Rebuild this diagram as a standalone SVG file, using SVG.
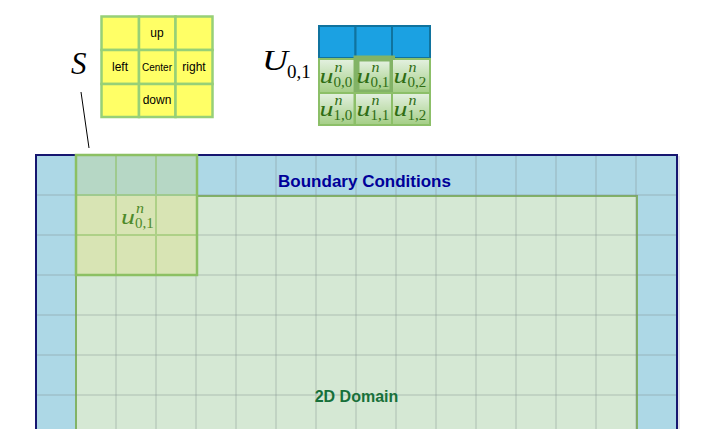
<svg xmlns="http://www.w3.org/2000/svg" width="707" height="429" viewBox="0 0 707 429">
<defs>
<style>
.sans{font-family:"Liberation Sans",Arial,sans-serif}
.math{font-family:"Liberation Serif","DejaVu Serif",serif;font-style:italic}
.mrm{font-family:"Liberation Serif","DejaVu Serif",serif}
.scell{fill:#ffff66;stroke:#97d077;stroke-width:2.5}
.bcell{fill:#1ba1e2;stroke:#10739e;stroke-width:2}
.gcell{fill:url(#gg)}
.grid{stroke:#7a8a8a;stroke-opacity:0.22;stroke-width:2}
.ulab{fill:#2f6d14}
</style>
<linearGradient id="gg" x1="0" y1="0" x2="0" y2="1">
<stop offset="0" stop-color="#e2f0de"/>
<stop offset="1" stop-color="#a6cf88"/>
</linearGradient>
</defs>

<g id="domain-outer">
<rect x="36" y="155" width="641" height="290" fill="#add8e6" stroke="#161670" stroke-width="2"/>
<line x1="679" y1="156" x2="679" y2="429" stroke="#c8c8d0" stroke-width="1"/>
</g>
<g id="domain-inner">
<rect x="76" y="196" width="561" height="260" fill="#d5e8d4" stroke="#82b366" stroke-width="2"/>
</g>

<g id="grid">
<path class="grid" d="M37 195H676M37 235H676M37 275H676M37 315H676M37 355H676M37 395H676"/>
<path class="grid" d="M116 156V429M156 156V429M196 156V429M236 156V429M276 156V429M316 156V429M356 156V429M396 156V429M436 156V429M476 156V429M516 156V429M556 156V429M596 156V429M636 156V429"/>
</g>

<g id="stencil-overlay">
<rect x="76" y="155" width="121" height="41" fill="#b6d7c5"/>
<rect x="76" y="196" width="121" height="79" fill="#d8e4b4"/>
<path d="M116 155V275M156 155V275M76 195H197M76 235H197" stroke="#8cc063" stroke-opacity="0.55" stroke-width="2" fill="none"/>
<rect x="76" y="155" width="121" height="120" fill="none" stroke="#8cc063" stroke-width="2.5"/>
<text x="121" y="224" class="math" font-size="21" fill="#4e8a2a" textLength="14" lengthAdjust="spacingAndGlyphs">u</text>
<text x="136" y="213" class="math" font-size="14" fill="#4e8a2a" textLength="8" lengthAdjust="spacingAndGlyphs">n</text>
<text x="135" y="228" class="mrm" font-size="15" fill="#4e8a2a">0,1</text>
</g>

<g id="labels">
<text x="364.5" y="187" class="sans" font-size="17" font-weight="bold" fill="#000099" text-anchor="middle">Boundary Conditions</text>
<text x="356.5" y="402" class="sans" font-size="16" font-weight="bold" fill="#17703a" text-anchor="middle">2D Domain</text>
</g>

<g id="connectors">
<line x1="81" y1="92" x2="89" y2="148" stroke="#000" stroke-width="1"/>
</g>

<g id="stencil-S">
<text x="71" y="74" class="math" font-size="31" fill="#000">S</text>
<rect class="scell" x="101.5" y="16.5" width="37.5" height="33.5"/>
<rect class="scell" x="139" y="16.5" width="36.5" height="33.5"/>
<rect class="scell" x="175.5" y="16.5" width="37" height="33.5"/>
<rect class="scell" x="101.5" y="50" width="37.5" height="34"/>
<rect class="scell" x="139" y="50" width="36.5" height="34"/>
<rect class="scell" x="175.5" y="50" width="37" height="34"/>
<rect class="scell" x="101.5" y="84" width="37.5" height="33"/>
<rect class="scell" x="139" y="84" width="36.5" height="33"/>
<rect class="scell" x="175.5" y="84" width="37" height="33"/>
<text x="157" y="37" class="sans" font-size="12" fill="#000" text-anchor="middle">up</text>
<text x="120" y="71" class="sans" font-size="12" fill="#000" text-anchor="middle">left</text>
<text x="157" y="71" class="sans" font-size="10" fill="#000" text-anchor="middle">Center</text>
<text x="194" y="71" class="sans" font-size="12" fill="#000" text-anchor="middle">right</text>
<text x="157" y="104" class="sans" font-size="12" fill="#000" text-anchor="middle">down</text>
</g>

<g id="stencil-U">
<text x="262" y="70" class="math" font-size="29" fill="#000" textLength="26" lengthAdjust="spacingAndGlyphs">U</text>
<text x="287" y="78" class="mrm" font-size="19" fill="#000">0,1</text>
<rect class="bcell" x="319" y="26" width="36.5" height="32"/>
<rect class="bcell" x="355.5" y="26" width="36.5" height="32"/>
<rect class="bcell" x="392" y="26" width="38" height="32"/>
<rect x="318" y="58" width="113" height="68" fill="#8cbf68"/>
<rect x="353.5" y="55.5" width="41.5" height="36.5" fill="#82b366"/>
<rect class="gcell" x="320" y="60" width="33.5" height="32"/>
<rect class="gcell" x="359.5" y="61.5" width="30" height="28"/>
<rect class="gcell" x="393" y="60" width="36" height="32"/>
<rect class="gcell" x="320" y="94" width="33.5" height="30"/>
<rect class="gcell" x="356" y="94" width="35" height="30"/>
<rect class="gcell" x="393" y="94" width="36" height="30"/>
<g class="ulab">
<text x="319.5" y="83" class="math" font-size="21" textLength="14" lengthAdjust="spacingAndGlyphs">u</text>
<text x="334.5" y="72" class="math" font-size="14" textLength="8" lengthAdjust="spacingAndGlyphs">n</text>
<text x="333.5" y="87" class="mrm" font-size="15">0,0</text>
<text x="356.5" y="83" class="math" font-size="21" textLength="14" lengthAdjust="spacingAndGlyphs">u</text>
<text x="371.5" y="72" class="math" font-size="14" textLength="8" lengthAdjust="spacingAndGlyphs">n</text>
<text x="370.5" y="87" class="mrm" font-size="15">0,1</text>
<text x="393.5" y="83" class="math" font-size="21" textLength="14" lengthAdjust="spacingAndGlyphs">u</text>
<text x="408.5" y="72" class="math" font-size="14" textLength="8" lengthAdjust="spacingAndGlyphs">n</text>
<text x="407.5" y="87" class="mrm" font-size="15">0,2</text>
<text x="319.5" y="116" class="math" font-size="21" textLength="14" lengthAdjust="spacingAndGlyphs">u</text>
<text x="334.5" y="105" class="math" font-size="14" textLength="8" lengthAdjust="spacingAndGlyphs">n</text>
<text x="333.5" y="120" class="mrm" font-size="15">1,0</text>
<text x="356.5" y="116" class="math" font-size="21" textLength="14" lengthAdjust="spacingAndGlyphs">u</text>
<text x="371.5" y="105" class="math" font-size="14" textLength="8" lengthAdjust="spacingAndGlyphs">n</text>
<text x="370.5" y="120" class="mrm" font-size="15">1,1</text>
<text x="393.5" y="116" class="math" font-size="21" textLength="14" lengthAdjust="spacingAndGlyphs">u</text>
<text x="408.5" y="105" class="math" font-size="14" textLength="8" lengthAdjust="spacingAndGlyphs">n</text>
<text x="407.5" y="120" class="mrm" font-size="15">1,2</text>
</g>
</g>
</svg>
